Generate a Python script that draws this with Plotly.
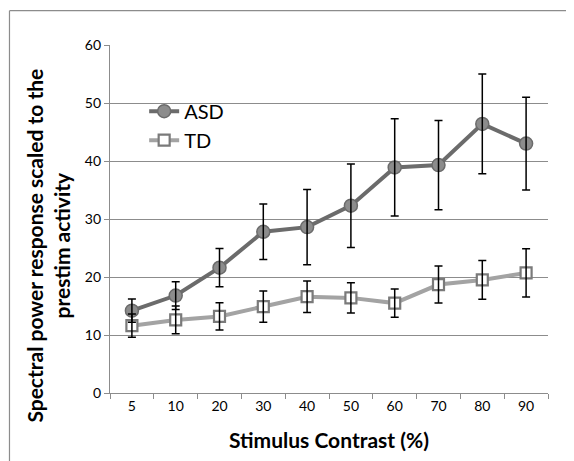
import plotly.graph_objects as go

categories = ["5", "10", "20", "30", "40", "50", "60", "70", "80", "90"]
asd_values = [14.2, 16.8, 21.6, 27.8, 28.6, 32.3, 38.9, 39.3, 46.4, 43.0]
asd_errors = [2.0, 2.4, 3.3, 4.8, 6.5, 7.2, 8.4, 7.7, 8.6, 8.0]
td_values = [11.6, 12.6, 13.2, 14.9, 16.6, 16.4, 15.5, 18.7, 19.5, 20.7]
td_errors = [2.0, 2.4, 2.35, 2.7, 2.7, 2.6, 2.45, 3.2, 3.35, 4.15]

FONT = "Lato"

fig = go.Figure()

fig.add_trace(go.Scatter(
    x=categories, y=td_values, name="TD", mode="lines+markers", legendrank=2,
    line=dict(color="#a3a3a3", width=4),
    marker=dict(symbol="square", size=11, color="white",
                line=dict(color="#7a7a7a", width=2.2)),
))
fig.add_trace(go.Scatter(
    x=categories, y=asd_values, name="ASD", mode="lines+markers", legendrank=1,
    line=dict(color="#6b6b6b", width=4),
    marker=dict(symbol="circle", size=13, color="#8c8c8c",
                line=dict(color="#6b6b6b", width=1.5)),
))
# error bars drawn over the markers
for vals, errs in ((td_values, td_errors), (asd_values, asd_errors)):
    fig.add_trace(go.Scatter(
        x=categories, y=vals, mode="markers", showlegend=False,
        marker=dict(size=1, opacity=0), hoverinfo="skip",
        error_y=dict(type="data", array=errs, visible=True,
                     color="black", thickness=1.5, width=4),
    ))

fig.update_layout(
    width=566, height=453,
    margin=dict(l=102, r=26, t=37, b=66),
    paper_bgcolor="white", plot_bgcolor="white",
    font=dict(family=FONT, color="black"),
    showlegend=True,
    legend=dict(x=0.078, y=0.866, xanchor="left", yanchor="top",
                traceorder="normal",
                font=dict(family=FONT, size=20, color="black"),
                bgcolor="rgba(0,0,0,0)", itemwidth=30),
    xaxis=dict(
        type="category", range=[-0.5, 9.5],
        showgrid=False, showline=True, linecolor="#8c8c8c", linewidth=1.2,
        ticks="outside", tickson="boundaries", ticklen=5, tickcolor="#8c8c8c",
        tickfont=dict(family=FONT, size=14, color="black"),
        title=dict(text="Stimulus Contrast (%)", standoff=20,
                   font=dict(family=FONT, size=21, color="black", weight="bold")),
    ),
    yaxis=dict(
        range=[0, 60], dtick=10, showgrid=True, gridcolor="#8c8c8c", gridwidth=1.2,
        zeroline=False,
        showline=True, linecolor="#8c8c8c", linewidth=1.2,
        ticks="outside", ticklen=5, tickcolor="#8c8c8c",
        tickfont=dict(family=FONT, size=14, color="black"),
    ),
    annotations=[
        dict(text="<b>Spectral power response scaled to the<br>prestim activity</b>",
             xref="paper", yref="paper", x=-0.142, y=0.423,
             xanchor="center", yanchor="middle", textangle=-90, showarrow=False,
             font=dict(family=FONT, size=21, color="black")),
    ],
    shapes=[
        dict(type="line", xref="paper", yref="paper", x0=-0.2295, x1=1.06, y0=1.0986, y1=1.0986,
             line=dict(color="#8c8c8c", width=1.2)),
        dict(type="line", xref="paper", yref="paper", x0=-0.2295, x1=-0.2295, y0=1.0986, y1=-0.2,
             line=dict(color="#8c8c8c", width=1.2)),
    ],
)

fig.write_html("out.html")
